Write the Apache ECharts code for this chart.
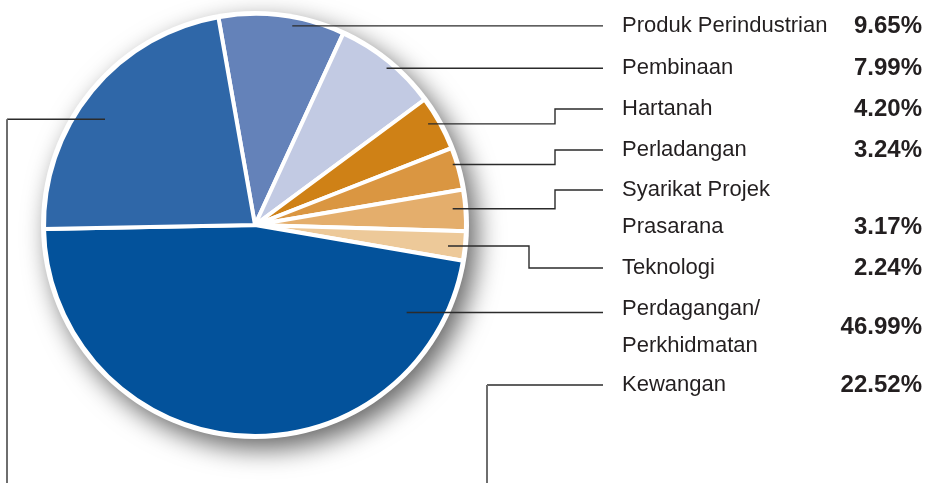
<!DOCTYPE html>
<html><head><meta charset="utf-8">
<script src="https://cdn.jsdelivr.net/npm/echarts@6/dist/echarts.min.js"></script>
<style>html,body{margin:0;padding:0;background:#fff}#c{width:935px;height:483px}</style>
</head><body><div id="c"></div>
<script>
// ---- data ----
const sectors = ['Produk Perindustrian','Pembinaan','Hartanah','Perladangan','Syarikat Projek Prasarana','Teknologi','Perdagangan/Perkhidmatan','Kewangan'];
const shares = [9.65, 7.99, 4.20, 3.24, 3.17, 2.24, 46.99, 22.52];
const labelText = [['Produk Perindustrian'],['Pembinaan'],['Hartanah'],['Perladangan'],['Syarikat Projek','Prasarana'],['Teknologi'],['Perdagangan/','Perkhidmatan'],['Kewangan']];
const colors = ['#6482b9','#c2cae3','#cf8116','#da9641','#e4ae6c','#edc999','#03529b','#2f67a8'];

// ---- layout (annotation positions) ----
const W = 935, H = 483;
const CX = 255, CY = 225, R_OUT = 214, R = 211;
const rowY = [26, 68, 109, 150, 190, 268, 309, 385];   // first text line of each label
const valY = [26, 68, 109, 150, 227, 268, 327, 385];   // value text
const LINE_H = 37;
const nameX = 622, valX = 922, lineEndX = 603;
const anchorAngle = [10.6, 40, 59.7, 73, 85.3, 96.2, 120, 305.2]; // deg clockwise from top
const anchorFrac  = [0.96, 0.97, 0.95, 0.98, 0.94, 0.92, 0.83, 0.87];
const bendX = [null, null, 555, 555, 555, 529, null, null];
const leftRailX = 7, kewRailX = 487;

const chart = echarts.init(document.getElementById('c'), null, {renderer:'canvas'});

const dark = '#2b2b2b', grey = '#6e6e6e';
const font = '22px "Liberation Sans", Arial, sans-serif';
const bfont = 'bold 24px "Liberation Sans", Arial, sans-serif';
const graphics = [];

function anchor(i){
  const a = anchorAngle[i] * Math.PI / 180, r = R * anchorFrac[i];
  return [CX + r * Math.sin(a), CY - r * Math.cos(a)];
}
function seg(pts, color, w){
  graphics.push({type:'polyline', silent:true, z:10, shape:{points:pts}, style:{stroke:color, lineWidth:w, fill:null}});
}

sectors.forEach((s, i) => {
  labelText[i].forEach((t, k) => {
    graphics.push({type:'text', silent:true, z:10, style:{text:t, x:nameX, y:rowY[i] + k*LINE_H, font:font, fill:'#231f20', textAlign:'left', textVerticalAlign:'middle'}});
  });
  graphics.push({type:'text', silent:true, z:10, style:{text:shares[i].toFixed(2) + '%', x:valX, y:valY[i], font:bfont, fill:'#231f20', textAlign:'right', textVerticalAlign:'middle'}});
  const [ax, ay] = anchor(i);
  if (i === sectors.length - 1) {
    seg([[ax, ay],[leftRailX, ay]], dark, 1.4);
    seg([[leftRailX, ay],[leftRailX, H + 10]], grey, 2);
    seg([[lineEndX, rowY[i]],[kewRailX, rowY[i]]], dark, 1.4);
    seg([[kewRailX, rowY[i]],[kewRailX, H + 10]], grey, 2);
  } else if (bendX[i] === null) {
    seg([[ax, ay],[lineEndX, ay]], dark, 1.4);
  } else {
    seg([[ax, ay],[bendX[i], ay],[bendX[i], rowY[i]],[lineEndX, rowY[i]]], dark, 1.4);
  }
});

chart.setOption({
  animation:false,
  backgroundColor:'#fff',
  series:[
    {type:'pie', silent:true, center:[CX, CY], radius:R_OUT, z:1,
     label:{show:false}, labelLine:{show:false},
     itemStyle:{color:'#fff', shadowBlur:26, shadowColor:'rgba(0,0,0,0.6)', shadowOffsetX:8, shadowOffsetY:10},
     data:[{value:1, name:'bg'}]},
    {type:'pie', silent:true, center:[CX, CY], radius:R, startAngle:100, clockwise:true, z:2,
     label:{show:false}, labelLine:{show:false},
     itemStyle:{borderColor:'#fff', borderWidth:4},
     data: sectors.map((s, i) => ({name:s, value:shares[i], itemStyle:{color:colors[i]}}))}
  ],
  graphic: graphics
});
</script>
</body></html>
